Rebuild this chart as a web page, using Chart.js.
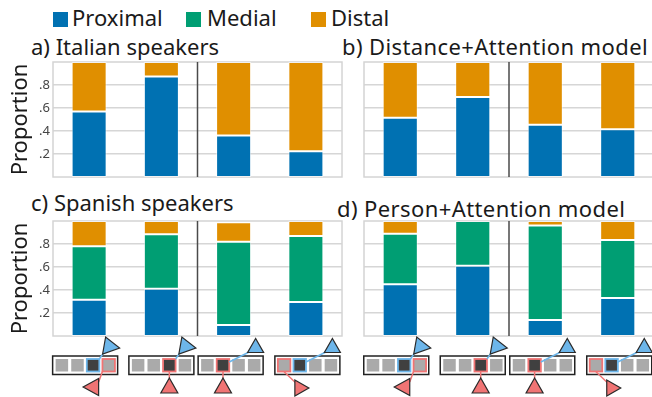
<!DOCTYPE html>
<html>
<head>
<meta charset="utf-8">
<script src="https://cdn.jsdelivr.net/npm/chart.js@4.4.1/dist/chart.umd.min.js"></script>
<style>
  html, body { margin: 0; padding: 0; width: 652px; height: 397px; overflow: hidden; background: #fff; }
  body { position: relative; font-family: "Noto Sans", sans-serif; color: #1a1a1a; }
  canvas { position: absolute; }
  .txt { position: absolute; font-size: 22px; line-height: 22px; white-space: nowrap; }
  .sw { position: absolute; width: 15px; height: 15px; top: 12px; }
</style>
</head>
<body>
<div id="legend"></div>
<div class="txt" style="left:31px;top:35px">a) Italian speakers</div>
<div class="txt" style="left:342px;top:35px;letter-spacing:0.4px">b) Distance+Attention model</div>
<div class="txt" style="left:31px;top:191px">c) Spanish speakers</div>
<div class="txt" style="left:337px;top:197px;letter-spacing:0.4px">d) Person+Attention model</div>
<canvas id="chartA" width="345" height="125" style="left:0;top:56px"></canvas>
<canvas id="chartB" width="312" height="125" style="left:345px;top:56px"></canvas>
<canvas id="chartC" width="345" height="182" style="left:0;top:215px"></canvas>
<canvas id="chartD" width="312" height="182" style="left:345px;top:215px"></canvas>
<script>
const categories = ['Condition 1', 'Condition 2', 'Condition 3', 'Condition 4'];
const seriesNames = ['Proximal', 'Medial', 'Distal'];
const seriesColors = ['#0071b2', '#009e73', '#e08f00'];
const yTicks = [0.2, 0.4, 0.6, 0.8];
const yTickLabels = ['.2', '.4', '.6', '.8'];

// a) Italian speakers
const italianProximal = [0.57, 0.875, 0.36, 0.225];
const italianDistal = [0.43, 0.125, 0.64, 0.775];
// b) Distance+Attention model
const distanceProximal = [0.515, 0.695, 0.455, 0.415];
const distanceDistal = [0.485, 0.305, 0.545, 0.585];
// c) Spanish speakers
const spanishProximal = [0.315, 0.41, 0.095, 0.295];
const spanishMedial = [0.465, 0.475, 0.725, 0.575];
const spanishDistal = [0.22, 0.115, 0.17, 0.13];
// d) Person+Attention model
const personProximal = [0.45, 0.61, 0.14, 0.33];
const personMedial = [0.44, 0.39, 0.82, 0.505];
const personDistal = [0.11, 0, 0.04, 0.165];

// little scene pictures under the bottom row
const iconSpecs = [
    { dark: 2, blueSq: 2, redSq: 3, blueTri: 'right', redTri: 'left', shift: -4 },
    { dark: 2, blueSq: -1, redSq: 2, blueTri: 'right', redTri: 'up', shift: 0 },
    { dark: 1, blueSq: -1, redSq: 1, blueTri: 'up', redTri: 'up', shift: -3 },
    { dark: 1, blueSq: 1, redSq: 0, blueTri: 'up', redTri: 'right', shift: 1.5 }
];

// legend
const legend = document.getElementById('legend');
const swX = [53, 186, 311];
const txtX = [72, 207, 331];
seriesNames.forEach((name, k) => {
    const sw = document.createElement('div');
    sw.className = 'sw';
    sw.style.left = swX[k] + 'px';
    sw.style.background = seriesColors[k];
    legend.appendChild(sw);
    const t = document.createElement('div');
    t.className = 'txt';
    t.style.left = txtX[k] + 'px';
    t.style.top = '6px';
    t.textContent = name;
    legend.appendChild(t);
});

function tri(ctx, pts, fill) {
    ctx.beginPath();
    ctx.moveTo(pts[0][0], pts[0][1]);
    ctx.lineTo(pts[1][0], pts[1][1]);
    ctx.lineTo(pts[2][0], pts[2][1]);
    ctx.closePath();
    ctx.fillStyle = fill;
    ctx.fill();
    ctx.strokeStyle = '#2a2a2a';
    ctx.lineWidth = 1.2;
    ctx.stroke();
}

function drawIcon(ctx, cx, top, s) {
    const left = cx - 32.5, pitch = 15.6, size = 12.5;
    const sq = i => left + 3 + i * pitch;
    const blue = '#6db6ea', red = '#f07474';

    ctx.fillStyle = '#fff';
    ctx.fillRect(left, top, 65, 18.5);
    ctx.strokeStyle = '#222';
    ctx.lineWidth = 1.5;
    ctx.strokeRect(left, top, 65, 18.5);
    for (let i = 0; i < 4; i++) {
        ctx.fillStyle = i === s.dark ? '#404040' : '#aaaaaa';
        ctx.fillRect(sq(i), top + 3, size, size);
    }
    ctx.lineWidth = 1.8;
    if (s.blueSq >= 0) {
        ctx.strokeStyle = blue;
        ctx.strokeRect(sq(s.blueSq), top + 3, size, size);
    }
    ctx.strokeStyle = red;
    ctx.strokeRect(sq(s.redSq), top + 3, size, size);

    // connecting lines
    const d = sq(s.dark);
    ctx.lineWidth = 1.5;
    ctx.strokeStyle = blue;
    ctx.beginPath();
    if (s.blueTri === 'right') { ctx.moveTo(d + size, top + 3); ctx.lineTo(left + 53, top - 6); }
    else { ctx.moveTo(d + size, top + 6); ctx.lineTo(left + 51, top - 4); }
    ctx.stroke();

    const dc = d + size / 2;
    ctx.strokeStyle = red;
    ctx.beginPath();
    if (s.redTri === 'left') { ctx.moveTo(sq(s.redSq), top + 15.5); ctx.lineTo(left + 46, top + 26); }
    else if (s.redTri === 'up') { ctx.moveTo(dc, top + 15.5); ctx.lineTo(dc, top + 22); }
    else { ctx.moveTo(sq(s.redSq) + 6, top + 15.5); ctx.lineTo(left + 21, top + 27); }
    ctx.stroke();

    if (s.blueTri === 'right') tri(ctx, [[left + 53, top - 19], [left + 50, top - 2], [left + 67, top - 8]], blue);
    else tri(ctx, [[left + 57.5, top - 17.5], [left + 49.5, top - 3.5], [left + 65.5, top - 3.5]], blue);

    if (s.redTri === 'left') tri(ctx, [[left + 46, top + 22.5], [left + 46, top + 39.5], [left + 30.5, top + 31]], red);
    else if (s.redTri === 'up') tri(ctx, [[dc, top + 22], [dc - 8.5, top + 37], [dc + 8.5, top + 37]], red);
    else tri(ctx, [[left + 20, top + 24], [left + 20, top + 40], [left + 34, top + 32]], red);
}

const panelDecor = {
    id: 'panelDecor',
    beforeDatasetsDraw(chart) {
        const { ctx, chartArea: a } = chart;
        ctx.save();
        ctx.strokeStyle = '#d4d4d4';
        ctx.lineWidth = 1.5;
        ctx.strokeRect(a.left, a.top, a.right - a.left, a.bottom - a.top);
        ctx.restore();
    },
    afterDatasetsDraw(chart, args, opts) {
        const { ctx, chartArea: a, scales: { x } } = chart;
        ctx.save();
        const sx = (x.getPixelForValue(1) + x.getPixelForValue(2)) / 2;
        ctx.strokeStyle = '#4a4a4a';
        ctx.lineWidth = 1.5;
        ctx.beginPath();
        ctx.moveTo(sx, a.top);
        ctx.lineTo(sx, a.bottom);
        ctx.stroke();
        if (opts.icons) {
            iconSpecs.forEach((s, i) => drawIcon(ctx, x.getPixelForValue(i) + s.shift, a.bottom + 20, s));
        }
        ctx.restore();
    }
};

function makeChart(id, series, withLabels, withIcons) {
    const datasets = series.map(([k, values]) => ({
        label: seriesNames[k],
        data: values,
        backgroundColor: seriesColors[k],
        borderColor: 'rgba(255,255,255,0.55)',
        borderWidth: 1,
        borderSkipped: false,
        barPercentage: 0.485,
        categoryPercentage: 1
    }));
    return new Chart(document.getElementById(id), {
        type: 'bar',
        data: { labels: categories, datasets: datasets },
        plugins: [panelDecor],
        options: {
            responsive: false,
            animation: false,
            layout: { padding: { top: 6, bottom: withIcons ? 61 : 4, left: 0, right: 3 } },
            plugins: {
                legend: { display: false },
                tooltip: { enabled: false },
                panelDecor: { icons: withIcons }
            },
            scales: {
                x: { stacked: true, display: false },
                y: {
                    stacked: true,
                    min: 0,
                    max: 1,
                    afterBuildTicks: scale => { scale.ticks = yTicks.map(v => ({ value: v })); },
                    afterFit: scale => {
                        scale.width = withLabels ? 53 : 19;
                        scale.paddingTop = 0;
                        scale.paddingBottom = 0;
                    },
                    ticks: {
                        display: withLabels,
                        padding: 3,
                        color: '#444',
                        font: { family: 'Noto Sans', size: 13 },
                        callback: (v, i) => yTickLabels[i]
                    },
                    grid: { color: '#d6d6d6', lineWidth: 1.5, drawTicks: false },
                    border: { display: false },
                    title: {
                        display: withLabels,
                        text: 'Proportion',
                        color: '#1a1a1a',
                        font: { family: 'Noto Sans', size: 22 },
                        padding: { top: 8, bottom: 0 }
                    }
                }
            }
        }
    });
}

makeChart('chartA', [[0, italianProximal], [2, italianDistal]], true, false);
makeChart('chartB', [[0, distanceProximal], [2, distanceDistal]], false, false);
makeChart('chartC', [[0, spanishProximal], [1, spanishMedial], [2, spanishDistal]], true, true);
makeChart('chartD', [[0, personProximal], [1, personMedial], [2, personDistal]], false, true);
</script>
</body>
</html>
